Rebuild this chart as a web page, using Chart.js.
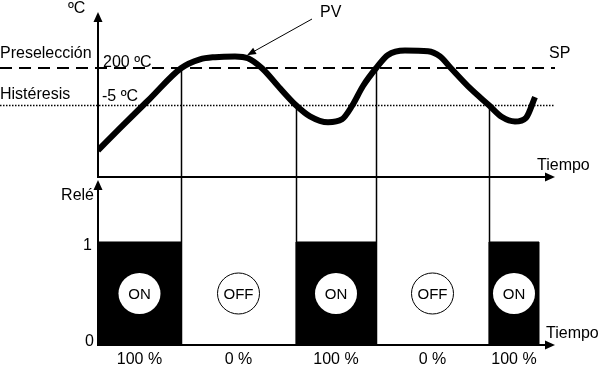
<!DOCTYPE html>
<html><head><meta charset="utf-8">
<script src="https://cdn.jsdelivr.net/npm/chart.js@4"></script>
<style>html,body{margin:0;padding:0;background:#fff}#wrap{width:600px;height:366px;position:relative}</style>
</head><body><div id="wrap"><canvas id="c" width="600" height="366"></canvas></div>
<script>
// ---- data ----
const pvTime = [0, 2.2, 5.2, 8.3, 10.2, 11.7, 13.7, 15.0, 16.4, 18.2, 19.8, 21.2, 23.0, 24.4, 25.4, 26.5, 27.8, 29.0, 30.7, 33.0, 34.2, 35.3, 37.2, 39.1, 40.4, 41.7, 42.8, 43.7];
const pvTemp = [188.9, 191.9, 195.9, 200.0, 201.2, 201.5, 201.6, 201.35, 200.0, 197.3, 195.0, 193.5, 192.7, 193.1, 194.9, 197.6, 200.0, 201.8, 202.4, 202.3, 201.6, 200.0, 197.3, 195.0, 193.4, 192.8, 193.3, 196.1];
const setpoint = 200;
const hysteresis = 5;
const switchTimes = [0, 8.3, 19.8, 27.8, 39.1, 44.1];
const relayStates = [1, 0, 1, 0, 1];
const stateLabels = ['ON', 'OFF', 'ON', 'OFF', 'ON'];
const dutyLabels = ['100 %', '0 %', '100 %', '0 %', '100 %'];
const timeRange = [0, 45.9];
const tempRange = [162.6, 207.6];
const tempAxisBase = 185.3;
const relayRange = [0, 3.233];
const pvArrowIndex = 7;

const FONT = '"Liberation Sans", Arial, sans-serif';

const pvData = pvTime.map((t, i) => ({x: t, y: pvTemp[i]}));
const relayData = relayStates.map((s, i) => ({x: switchTimes[i], y: s}));
relayData.push({x: switchTimes[switchTimes.length - 1], y: 0});

function arrowHead(ctx, x, y, dx, dy, len, half) {
  const l = Math.hypot(dx, dy); const ux = dx / l, uy = dy / l;
  ctx.beginPath();
  ctx.moveTo(x, y);
  ctx.lineTo(x - ux * len - uy * half, y - uy * len + ux * half);
  ctx.lineTo(x - ux * len + uy * half, y - uy * len - ux * half);
  ctx.closePath();
  ctx.fill();
}

const diagram = {
  id: 'diagram',
  beforeDatasetsDraw(chart) {
    const ctx = chart.ctx, xs = chart.scales.x, yT = chart.scales.yT, yR = chart.scales.yR;
    const x0 = xs.getPixelForValue(timeRange[0]);
    const xEnd = xs.right - 2;
    const yBaseT = yT.getPixelForValue(tempAxisBase);
    const yBaseR = yR.getPixelForValue(0);
    ctx.save();
    ctx.strokeStyle = '#000'; ctx.fillStyle = '#000';
    // setpoint dashed
    ctx.lineWidth = 2; ctx.setLineDash([12, 7]);
    let y = Math.round(yT.getPixelForValue(setpoint));
    ctx.beginPath(); ctx.moveTo(0, y); ctx.lineTo(xEnd, y); ctx.stroke();
    // hysteresis dotted
    ctx.lineWidth = 1.5; ctx.setLineDash([1.5, 1.5]);
    y = Math.round(yT.getPixelForValue(setpoint - hysteresis)) + 0.5;
    ctx.beginPath(); ctx.moveTo(0, y); ctx.lineTo(xEnd, y); ctx.stroke();
    ctx.setLineDash([]);
    // switching verticals
    ctx.lineWidth = 1.5;
    for (let i = 1; i < switchTimes.length - 1; i++) {
      const xx = Math.round(xs.getPixelForValue(switchTimes[i])) + 0.5;
      const level = relayStates[i] === 0 ? setpoint : setpoint - hysteresis;
      ctx.beginPath(); ctx.moveTo(xx, yT.getPixelForValue(level)); ctx.lineTo(xx, yBaseR); ctx.stroke();
    }
    // axes
    ctx.lineWidth = 2;
    ctx.beginPath(); ctx.moveTo(x0, yBaseT + 1); ctx.lineTo(x0, yT.top + 6); ctx.stroke();
    arrowHead(ctx, x0, yT.top, 0, -1, 10, 4.5);
    ctx.beginPath(); ctx.moveTo(x0, yBaseT); ctx.lineTo(xEnd - 6, yBaseT); ctx.stroke();
    arrowHead(ctx, xEnd, yBaseT, 1, 0, 10, 4.5);
    ctx.beginPath(); ctx.moveTo(x0, yBaseR + 1); ctx.lineTo(x0, yBaseT + 9); ctx.stroke();
    arrowHead(ctx, x0, yBaseT + 3, 0, -1, 10, 4.5);
    ctx.beginPath(); ctx.moveTo(x0, yBaseR); ctx.lineTo(xEnd - 6, yBaseR); ctx.stroke();
    arrowHead(ctx, xEnd, yBaseR, 1, 0, 10, 4.5);
    ctx.restore();
  },
  afterDatasetsDraw(chart) {
    const ctx = chart.ctx, xs = chart.scales.x, yT = chart.scales.yT, yR = chart.scales.yR;
    ctx.save();
    ctx.fillStyle = '#000'; ctx.strokeStyle = '#000';
    // state circles
    for (let i = 0; i < relayStates.length; i++) {
      const cx = (xs.getPixelForValue(switchTimes[i]) + xs.getPixelForValue(switchTimes[i + 1])) / 2;
      const cy = yR.getPixelForValue(0.5);
      ctx.beginPath(); ctx.ellipse(cx, cy, 21, 20.5, 0, 0, Math.PI * 2);
      ctx.fillStyle = '#fff'; ctx.fill();
      if (relayStates[i] === 0) { ctx.lineWidth = 1; ctx.stroke(); }
      ctx.fillStyle = '#000';
      ctx.font = '15px ' + FONT; ctx.textAlign = 'center'; ctx.textBaseline = 'middle';
      ctx.fillText(stateLabels[i], cx, cy + 1);
      ctx.font = '16px ' + FONT; ctx.textBaseline = 'alphabetic';
      ctx.fillText(dutyLabels[i], cx, 364);
    }
    // PV pointer
    const tx = xs.getPixelForValue(pvTime[pvArrowIndex]) - 1;
    const ty = yT.getPixelForValue(pvTemp[pvArrowIndex]) - 3;
    const sx = 312, sy = 19;
    ctx.lineWidth = 1;
    ctx.beginPath(); ctx.moveTo(sx, sy); ctx.lineTo(tx + (sx - tx) * 0.1, ty + (sy - ty) * 0.1); ctx.stroke();
    arrowHead(ctx, tx, ty, tx - sx, ty - sy, 9, 3.5);
    // texts
    ctx.font = '16px ' + FONT; ctx.textBaseline = 'alphabetic'; ctx.textAlign = 'left';
    ctx.fillText('ºC', 68, 13);
    ctx.fillText('Preselección', 0, 58);
    ctx.fillText('Histéresis', 0, 99);
    ctx.fillText(setpoint + ' ºC', 103, 67);
    ctx.fillText('-' + hysteresis + ' ºC', 102, 101);
    ctx.fillText('SP', 549, 58);
    ctx.fillText('PV', 320, 17);
    ctx.fillText('Tiempo', 537, 170);
    ctx.fillText('Tiempo', 546, 338);
    ctx.textAlign = 'right';
    ctx.fillText('Relé', 94, 200);
    ctx.fillText('1', 92, 250);
    ctx.fillText('0', 94, 346);
    ctx.restore();
  }
};

new Chart(document.getElementById('c'), {
  type: 'line',
  data: {
    datasets: [
      {
        label: 'PV', data: pvData, yAxisID: 'yT', borderColor: '#000', borderWidth: 6,
        cubicInterpolationMode: 'monotone', pointRadius: 0, fill: false, borderJoinStyle: 'round', borderCapStyle: 'butt'
      },
      {
        label: 'Relé', data: relayData, yAxisID: 'yR', stepped: true, borderColor: '#000', borderWidth: 1,
        backgroundColor: '#000', fill: 'origin', pointRadius: 0
      }
    ]
  },
  options: {
    responsive: false, animation: false, devicePixelRatio: 1,
    layout: {padding: {left: 98, right: 43, top: 12, bottom: 21}},
    scales: {
      x: {type: 'linear', min: timeRange[0], max: timeRange[1], display: false},
      yT: {type: 'linear', min: tempRange[0], max: tempRange[1], display: false},
      yR: {type: 'linear', min: relayRange[0], max: relayRange[1], display: false}
    },
    plugins: {legend: {display: false}, tooltip: {enabled: false}}
  },
  plugins: [diagram]
});
</script></body></html>
